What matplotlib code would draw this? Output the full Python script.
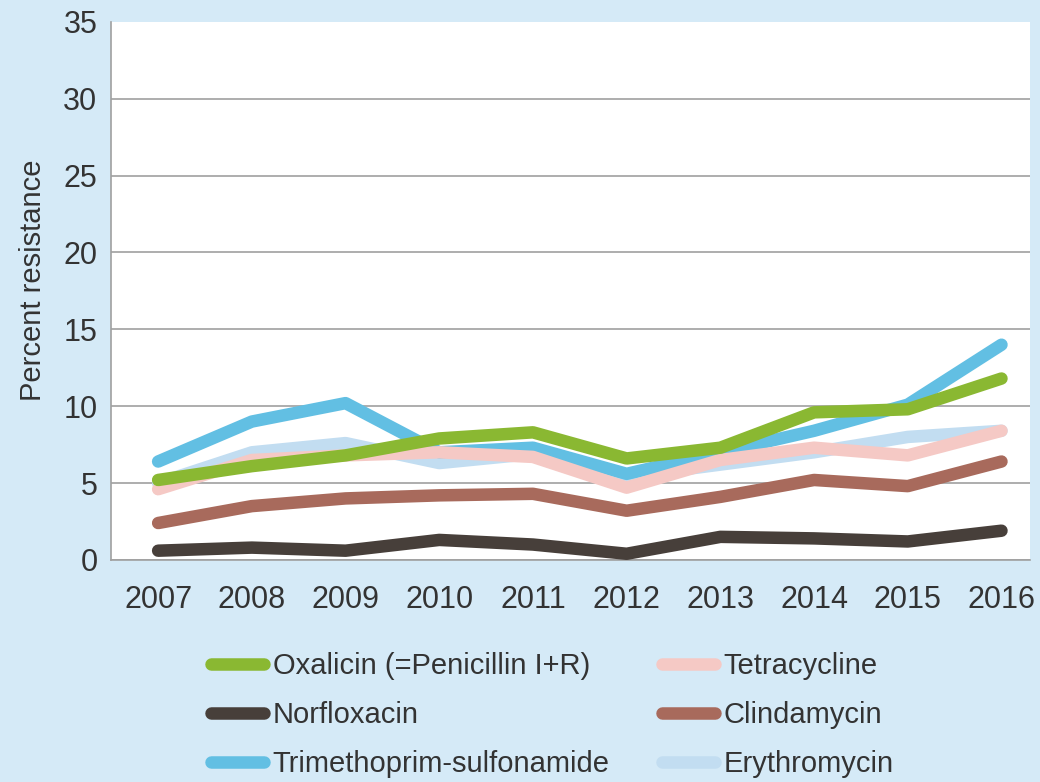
import matplotlib
matplotlib.use("Agg")
import matplotlib.pyplot as plt

# data
years = [2007, 2008, 2009, 2010, 2011, 2012, 2013, 2014, 2015, 2016]
oxalicin = [5.2, 6.1, 6.8, 7.9, 8.3, 6.6, 7.3, 9.6, 9.8, 11.8]
norfloxacin = [0.6, 0.8, 0.6, 1.3, 1.0, 0.4, 1.5, 1.4, 1.2, 1.9]
trimethoprim = [6.4, 9.0, 10.2, 7.0, 7.3, 5.6, 7.0, 8.4, 10.1, 14.0]
tetracycline = [4.6, 6.5, 6.8, 7.0, 6.7, 4.7, 6.5, 7.3, 6.8, 8.4]
clindamycin = [2.4, 3.5, 4.0, 4.2, 4.3, 3.2, 4.1, 5.2, 4.8, 6.4]
erythromycin = [5.0, 7.0, 7.6, 6.3, 6.9, 5.4, 6.2, 7.0, 8.0, 8.4]

bg = "#d5eaf7"
txt = "#333333"
plt.rcParams['font.family'] = ['Liberation Sans', 'DejaVu Sans']

fig = plt.figure(figsize=(10.4, 7.82), dpi=100, facecolor=bg)
ax = fig.add_axes([0.107, 0.284, 0.883, 0.688])
ax.set_facecolor("white")

lw = 9
kw = dict(lw=lw, solid_capstyle='round', solid_joinstyle='round')
ax.plot(years, erythromycin, color="#c2ddf1", zorder=2, **kw)
ax.plot(years, trimethoprim, color="#62bfe3", zorder=3, **kw)
ax.plot(years, tetracycline, color="#f5c9c5", zorder=4, **kw)
ax.plot(years, clindamycin, color="#a86a5c", zorder=5, **kw)
ax.plot(years, norfloxacin, color="#473f3a", zorder=6, **kw)
ax.plot(years, oxalicin, color="#8ab832", zorder=7, **kw)

ax.set_xlim(2006.5, 2016.3)
ax.set_ylim(0, 35)
ax.set_yticks(range(0, 36, 5))
ax.set_xticks(years)
ax.grid(axis='y', color="#a0a0a0", lw=1.2, zorder=1)
ax.get_ygridlines()[-1].set_visible(False)
for s in ['top', 'right']:
    ax.spines[s].set_visible(False)
for s in ['left', 'bottom']:
    ax.spines[s].set_color("#a0a0a0")
    ax.spines[s].set_linewidth(1.2)
ax.tick_params(length=0, labelsize=22, colors=txt, pad=10)
ax.tick_params(axis='x', pad=18)
ax.set_ylabel("Percent resistance", fontsize=21, color=txt)
ax.yaxis.set_label_coords(-0.07, 0.52)

# legend, two columns
items = [("Oxalicin (=Penicillin I+R)", "#8ab832"),
         ("Tetracycline", "#f5c9c5"),
         ("Norfloxacin", "#473f3a"),
         ("Clindamycin", "#a86a5c"),
         ("Trimethoprim-sulfonamide", "#62bfe3"),
         ("Erythromycin", "#c2ddf1")]
handles = [plt.Line2D([], [], color=c, lw=lw, solid_capstyle='round') for _, c in items]
labels = [t for t, _ in items]
# reorder so column-major fill gives row layout
order = [0, 2, 4, 1, 3, 5]
leg = fig.legend([handles[i] for i in order], [labels[i] for i in order],
                 ncol=2, loc='upper left', bbox_to_anchor=(0.178, 0.2),
                 frameon=False, handlelength=1.8, handletextpad=0.3,
                 columnspacing=1.8, labelspacing=0.72,
                 prop={'size': 21})
for t in leg.get_texts():
    t.set_color(txt)

fig.savefig("out.png", dpi=100, facecolor=bg)
